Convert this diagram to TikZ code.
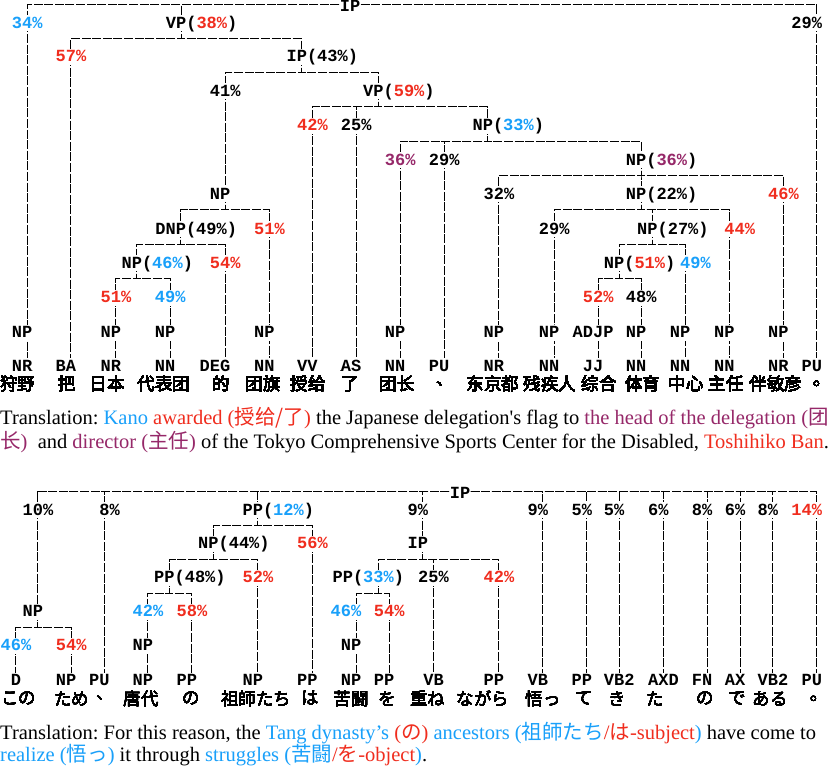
\documentclass[tikz,border=0pt]{standalone}
\usepackage{fontspec}
\setmainfont{Liberation Serif}
\setmonofont{Liberation Mono}
\newfontfamily\zh{Noto Sans CJK SC}
\newfontfamily\ja{Noto Sans CJK JP}
\usepackage{tikz}
\definecolor{pblue}{RGB}{25,160,250}
\definecolor{pred}{RGB}{240,45,30}
\definecolor{ppurple}{RGB}{150,40,105}
\newcommand{\pcb}[1]{\textcolor{pblue}{#1}}
\newcommand{\pcr}[1]{\textcolor{pred}{#1}}
\newcommand{\pcp}[1]{\textcolor{ppurple}{#1}}
\newcommand{\chw}{10.2pt}
% tree label: the line runs through character #1 of the label
\newcommand{\tn}[5][1]{%
    \coordinate (#2) at (#3,#4);
    \node[lab,anchor=west,xshift={-(#1+0.5)*\chw}] (#2-t) at (#2) {#5};}
% bracket from a parent down to its children
\newcommand{\branch}[2]{%
    \foreach \kid in {#2} \draw[br] (#1) -- ++(0,15.5) -| (\kid);}
\pgfdeclarelayer{background}
\pgfsetlayers{background,main}
\tikzset{
    br/.style={line width=1pt, dash pattern=on 9pt off 1.6pt},
    lab/.style={font=\fontsize{17}{17}\selectfont\ttfamily\bfseries, fill=white,
        inner xsep=0pt, inner ysep=3pt, text height=10pt, text depth=0pt},
    zhword/.style={font=\fontsize{17.5}{17.5}\zh, inner sep=0pt},
    jaword/.style={font=\fontsize{17.5}{17.5}\ja, inner sep=0pt},
    trans/.style={font=\fontsize{20.5}{24}\selectfont\frenchspacing, anchor=base west, inner sep=0pt}
}

\begin{document}
\begin{tikzpicture}[x=1pt,y=-1pt]
    \begin{pgfonlayer}{background}
        \fill[white] (0,0) rectangle (830,768);
    \end{pgfonlayer}
    \useasboundingbox (0,0) rectangle (830,768);

    % Upper tree (Chinese)
    \coordinate (ip) at (350,5);
    \node[lab,inner ysep=0.5pt] (ip-t) at (350,6.5) {IP};
    \tn{a34}{27}{23.5}{\pcb{34\%}}
    \tn{vp38}{181}{23.5}{VP(\pcr{38\%})}
    \tn[2]{r29}{816.7}{23.5}{29\%}
    \tn{a57}{70.7}{57}{\pcr{57\%}}
    \tn{ip43}{301.7}{57}{IP(43\%)}
    \tn{a41}{225}{91}{41\%}
    \tn{vp59}{378.3}{91}{VP(\pcr{59\%})}
    \tn{a42}{312.3}{125.5}{\pcr{42\%}}
    \tn{a25}{356}{125.5}{25\%}
    \tn{np33}{487.7}{125.5}{NP(\pcb{33\%})}
    \tn{a36}{400}{160}{\pcp{36\%}}
    \tn{a29}{444}{160}{29\%}
    \tn{np36}{641}{160}{NP(\pcp{36\%})}
    \tn{npd}{225}{194}{NP}
    \tn{a32}{498.7}{194}{32\%}
    \tn{np22}{641}{194}{NP(22\%)}
    \tn{a46}{783.3}{194}{\pcr{46\%}}
    \tn[2]{dnp}{180.7}{229}{DNP(49\%)}
    \tn{a51}{269.3}{229}{\pcr{51\%}}
    \tn{b29}{554}{229}{29\%}
    \tn{np27}{652.3}{229}{NP(27\%)}
    \tn[0]{a44}{729.3}{229}{\pcr{44\%}}
    \tn{np46}{136.7}{263}{NP(\pcb{46\%})}
    \tn{a54}{225}{263}{\pcr{54\%}}
    \tn{np51}{619}{263}{NP(\pcr{51\%})}
    \tn[0]{a49}{685}{263}{\pcb{49\%}}
    \tn{b51}{115.7}{297.5}{\pcr{51\%}}
    \tn{b49}{170}{297.5}{\pcb{49\%}}
    \tn{a52}{598}{297.5}{\pcr{52\%}}
    \tn{a48}{641}{297.5}{48\%}
    \foreach \x/\p/\k/\i in {27/NP/1/1, 115.7/NP/1/3, 170/NP/1/4, 269.3/NP/1/6,
        400/NP/1/9, 498.7/NP/1/11, 554/NP/1/12, 598/ADJP/2/13, 641/NP/1/14,
        685/NP/1/15, 729.3/NP/1/16, 783.3/NP/1/17}
        \tn[\k]{n\i}{\x}{332.5}{\p}
    \foreach \x/\p/\k [count=\i] in {27/NR/1, 70.7/BA/1, 115.7/NR/1, 170/NN/1,
        225/DEG/2, 269.3/NN/1, 312.3/VV/1, 356/AS/1, 400/NN/1, 444/PU/1,
        498.7/NR/1, 554/NN/1, 598/JJ/1, 641/NN/1, 685/NN/1, 729.3/NN/1,
        783.3/NR/1, 816.7/PU/1}
        \tn[\k]{p\i}{\x}{366}{\p}
    \foreach \x/\w [count=\i] in {18/狩野, 67/把, 107/日本, 164/代表团, 221/的,
        263/团旗, 308/授给, 350/了, 397/团长, 445/、, 493/东京都, 550/残疾人,
        599/综合, 642.5/体育, 686/中心, 726/主任, 776/伴敏彦, 822/。}
        \node[zhword] (w\i) at (\x,384) {\w};

    \node[trans] (t1a) at (0,424) {Translation: \pcb{Kano} \pcr{awarded ({\zh 授给/了})}
        the Japanese delegation\textquotesingle s flag to
        \pcp{the head of the delegation ({\zh 团}}};
    \node[trans] (t1b) at (0,448) {\pcp{{\zh 长})}\ \ and \pcp{director ({\zh 主任})}
        of the Tokyo Comprehensive Sports Center for the Disabled, \pcr{Toshihiko Ban}.};

    % Lower tree (Japanese)
    \coordinate (jip) at (460,491.7);
    \node[lab,inner ysep=1pt] (jip-t) at (460,493) {IP};
    \tn{j10}{37.7}{510}{10\%}
    \tn[0]{j8}{104.3}{510}{8\%}
    \tn{jpp12}{257.7}{510}{PP(\pcb{12\%})}
    \tn{j9}{422.7}{510}{9\%}
    \tn{j9b}{542.7}{510}{9\%}
    \tn{j5}{586.7}{510}{5\%}
    \tn{j5b}{619}{510}{5\%}
    \tn{j6}{663.3}{510}{6\%}
    \tn{j8b}{707}{510}{8\%}
    \tn{j6b}{740}{510}{6\%}
    \tn{j8c}{772.7}{510}{8\%}
    \tn[2]{j14}{816.7}{510}{\pcr{14\%}}
    \tn{jnp44}{213.3}{543.5}{NP(44\%)}
    \tn{j56}{312.3}{543.5}{\pcr{56\%}}
    \tn{jip2}{422.7}{543.5}{IP}
    \tn{jpp48}{169.3}{577.7}{PP(48\%)}
    \tn{j52}{257.7}{577.7}{\pcr{52\%}}
    \tn[4]{jpp33}{378.3}{577.7}{PP(\pcb{33\%})}
    \tn{j25}{433.3}{577.7}{25\%}
    \tn{j42}{498.7}{577.7}{\pcr{42\%}}
    \tn{jnp}{37.7}{611.7}{NP}
    \tn{j42b}{147.7}{611.7}{\pcb{42\%}}
    \tn{j58}{191.7}{611.7}{\pcr{58\%}}
    \tn[2]{j46}{356}{611.7}{\pcb{46\%}}
    \tn{j54}{389}{611.7}{\pcr{54\%}}
    \tn{j46b}{15.7}{645.5}{\pcb{46\%}}
    \tn{j54b}{71}{645.5}{\pcr{54\%}}
    \tn{jnpb}{147.7}{645.5}{NP}
    \tn{jnpc}{356}{645.5}{NP}
    \foreach \x/\p/\k [count=\i] in {15.7/D/0, 71/NP/1, 104.3/PU/1, 147.7/NP/1,
        191.7/PP/1, 257.7/NP/1, 312.3/PP/1, 356/NP/1, 389/PP/1, 433.3/VB/0.5,
        498.7/PP/1, 542.7/VB/1, 586.7/PP/1, 619/VB2/1, 663.3/AXD/1, 707/FN/1,
        740/AX/1, 772.7/VB2/1, 816.7/PU/1}
        \tn[\k]{q\i}{\x}{680.5}{\p}
    \foreach \x/\w [count=\i] in {19/この, 71.7/ため, 105/、, 141/唐代, 191/の,
        256/祖師たち, 310/は, 351/苦闘, 387/を, 427.5/重ね, 483/ながら, 543/悟っ,
        584/て, 617/き, 655/た, 705/の, 737/で, 770/ある, 819/。}
        \node[jaword] (v\i) at (\x,698.5) {\w};

    \node[trans] (t2a) at (0,739) {Translation: For this reason, the
        \pcb{Tang dynasty’s} \pcr{({\ja の})} \pcb{ancestors ({\ja 祖師たち}}\pcr{/{\ja は}-subject}\pcb{)}
        have come to};
    \node[trans] (t2b) at (0,761) {\pcb{realize ({\ja 悟っ})} it through
        \pcb{struggles ({\ja 苦闘}}\pcr{/{\ja を}-object}\pcb{)}.};

    % Connectors
    \begin{pgfonlayer}{background}
    \foreach \kid in {a34,vp38,r29} \draw[br] (ip) -| (\kid);
    \branch{vp38}{a57,ip43}
    \branch{ip43}{a41,vp59}
    \branch{vp59}{a42,a25,np33}
    \branch{np33}{a36,a29,np36}
    \branch{np36}{a32,np22,a46}
    \draw[br] (a41) -- (npd);
    \branch{npd}{dnp,a51}
    \branch{dnp}{np46,a54}
    \branch{np46}{b51,b49}
    \branch{np22}{b29,np27,a44}
    \branch{np27}{np51,a49}
    \branch{np51}{a52,a48}
    \draw[br] (a34) -- (n1) -- (p1);
    \draw[br] (a57) -- (p2);
    \draw[br] (b51) -- (n3) -- (p3);
    \draw[br] (b49) -- (n4) -- (p4);
    \draw[br] (a54) -- (p5);
    \draw[br] (a51) -- (n6) -- (p6);
    \draw[br] (a42) -- (p7);
    \draw[br] (a25) -- (p8);
    \draw[br] (a36) -- (n9) -- (p9);
    \draw[br] (a29) -- (p10);
    \draw[br] (a32) -- (n11) -- (p11);
    \draw[br] (b29) -- (n12) -- (p12);
    \draw[br] (a52) -- (n13) -- (p13);
    \draw[br] (a48) -- (n14) -- (p14);
    \draw[br] (a49) -- (n15) -- (p15);
    \draw[br] (a44) -- (n16) -- (p16);
    \draw[br] (a46) -- (n17) -- (p17);
    \draw[br] (r29) -- (p18);

    \foreach \kid in {j10,j8,jpp12,j9,j9b,j5,j5b,j6,j8b,j6b,j8c,j14}
        \draw[br] (jip) -| (\kid);
    \draw[br] (j10) -- (jnp);
    \branch{jnp}{j46b,j54b}
    \branch{jpp12}{jnp44,j56}
    \branch{jnp44}{jpp48,j52}
    \branch{jpp48}{j42b,j58}
    \draw[br] (j9) -- (jip2);
    \branch{jip2}{jpp33,j25,j42}
    \branch{jpp33}{j46,j54}
    \draw[br] (j46b) -- (q1);
    \draw[br] (j54b) -- (q2);
    \draw[br] (j8) -- (q3);
    \draw[br] (j42b) -- (jnpb) -- (q4);
    \draw[br] (j58) -- (q5);
    \draw[br] (j52) -- (q6);
    \draw[br] (j56) -- (q7);
    \draw[br] (j46) -- (jnpc) -- (q8);
    \draw[br] (j54) -- (q9);
    \draw[br] (j25) -- (q10);
    \draw[br] (j42) -- (q11);
    \draw[br] (j9b) -- (q12);
    \draw[br] (j5) -- (q13);
    \draw[br] (j5b) -- (q14);
    \draw[br] (j6) -- (q15);
    \draw[br] (j8b) -- (q16);
    \draw[br] (j6b) -- (q17);
    \draw[br] (j8c) -- (q18);
    \draw[br] (j14) -- (q19);
    \end{pgfonlayer}
\end{tikzpicture}
\end{document}
